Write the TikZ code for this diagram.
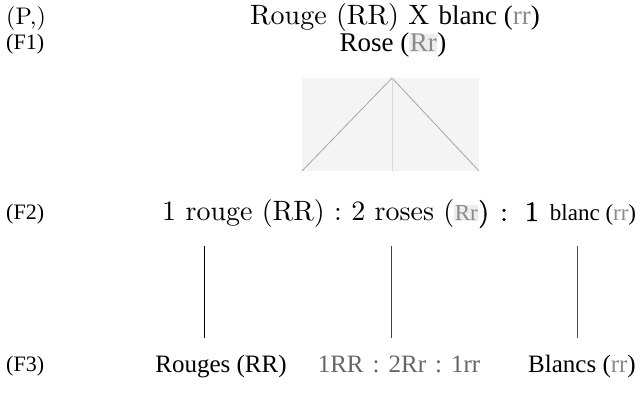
\documentclass[tikz,border=0pt]{standalone}
\usepackage{fontspec}
\newfontfamily\tms{Liberation Serif}
\newfontfamily\lmr{lmroman10-regular}[Extension=.otf]
\newfontfamily\lmrsb{lmroman10-regular}[Extension=.otf, FakeBold=1.2]
\definecolor{gen}{HTML}{8A8A8A}
\definecolor{genbg}{HTML}{EDEDED}
\definecolor{boxbg}{HTML}{F4F4F4}
\newcommand{\grtxt}[1]{\textcolor{gen}{#1}}
\newcommand{\grbox}[1]{{\setlength{\fboxsep}{0.5pt}\colorbox{genbg}{\textcolor{gen}{#1}}}}
\newcommand{\tmsize}[1]{\tms\fontsize{#1}{#1}\selectfont}
\tikzset{
  lbl/.style={anchor=base west, inner sep=0pt, font=\tms\fontsize{22}{26}\selectfont},
  txt/.style={anchor=base, inner sep=0pt, font=\lmr\fontsize{28}{32}\selectfont},
  ttxt/.style={anchor=base, inner sep=0pt, font=\tms\fontsize{27}{32}\selectfont},
  ftxt/.style={anchor=base, inner sep=0pt, font=\tms\fontsize{25}{30}\selectfont},
  vline/.style={line width=1pt, black},
  tri/.style={line width=0.8pt, gray!70},
}
\begin{document}
\begin{tikzpicture}[x=1pt,y=-1pt]
\useasboundingbox (0,0) rectangle (642,395);
% labels
\node[lbl, font=\lmr\fontsize{24}{28}\selectfont] (p) at (6,25) {(P,)};
\node[lbl] (f1) at (6,50) {(F1)};
\node[lbl] (f2) at (6,220) {(F2)};
\node[lbl] (f3) at (6,371) {(F3)};
% row 1, 2
\node[txt] (cross) at (395,25) {Rouge (RR) X {\tmsize{27}blanc (\grtxt{rr})}};
\node[ttxt] (rose) at (393,52) {Rose (\grbox{Rr})};
% triangle
\fill[boxbg] (302,78) rectangle (479,171);
\coordinate (apex) at (392,78);
\coordinate (tl) at (302,171);
\coordinate (tr) at (479,171);
\coordinate (tm) at (392,171);
\draw[tri] (apex) -- (tl);
\draw[tri] (apex) -- (tr);
\draw[line width=0.6pt, gray!30] (apex) -- (tm);
% row F2
\node[txt, anchor=base west] (f2row) at (162,221) {1 rouge (RR) : 2 roses ({\tmsize{23}\grbox{Rr}}{\lmrsb)\hspace{11pt}:\hspace{17pt}1}\hspace{11pt}{\tmsize{23}blanc (\grtxt{rr})}};
% vertical lines
\coordinate (a1) at (204,246); \coordinate (b1) at (204,338);
\coordinate (a2) at (391,246); \coordinate (b2) at (391,338);
\coordinate (a3) at (577,246); \coordinate (b3) at (577,338);
\draw[vline] (a1) -- (b1);
\draw[vline, black!75] (a2) -- (b2);
\draw[vline, black!70] (a3) -- (b3);
% row F3
\node[ftxt] (rouges) at (221,372) {Rouges (RR)};
\node[ftxt, text=black!60] (ratio) at (399,372) {1RR\hspace{9pt}:\hspace{9pt}2Rr\hspace{9pt}:\hspace{9pt}1rr};
\node[ftxt] (blancs) at (582,372) {Blancs (\grtxt{rr})};
\end{tikzpicture}
\end{document}
